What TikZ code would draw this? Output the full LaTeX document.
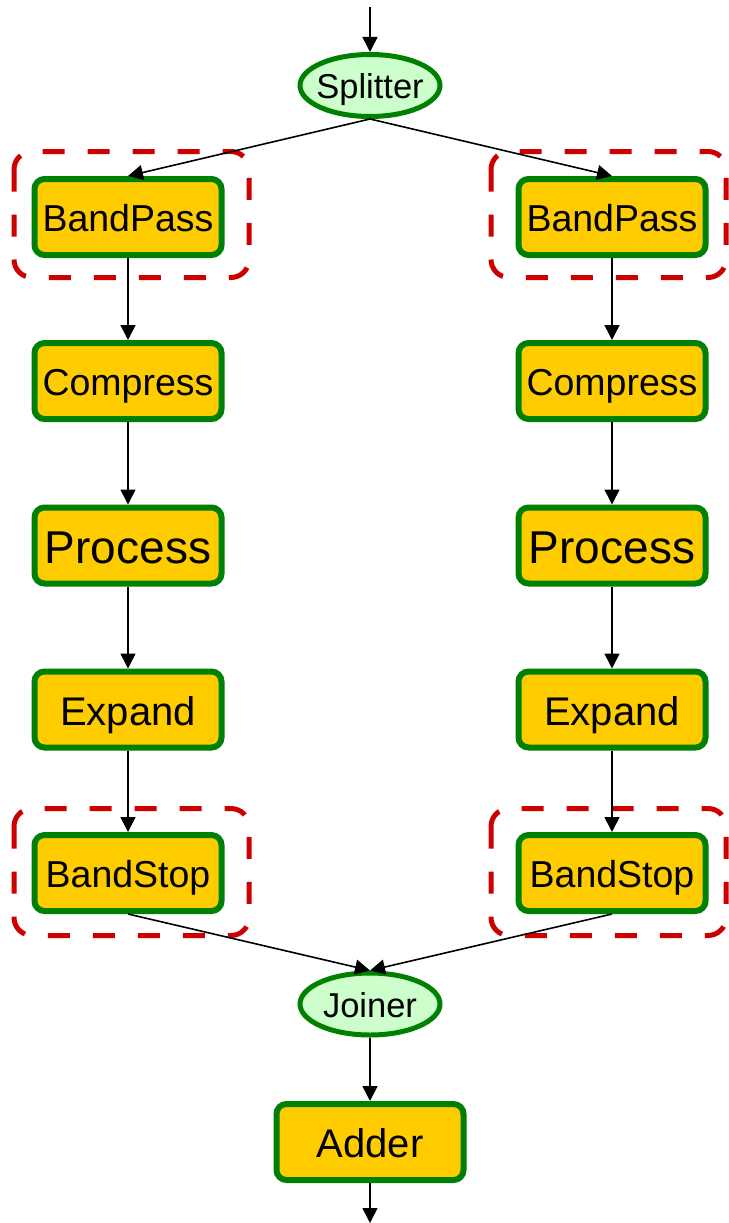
\documentclass[tikz,border=0pt]{standalone}
\usepackage{fontspec}
\setmainfont{Liberation Sans}
\usetikzlibrary{arrows.meta,shapes.geometric}
\definecolor{boxfill}{HTML}{FFCC00}
\definecolor{boxline}{HTML}{008000}
\definecolor{ellfill}{HTML}{CCFFCC}
\definecolor{dashred}{HTML}{CC0000}
\tikzset{
  filterbox/.style={draw=boxline, fill=boxfill, line width=6pt, rounded corners=10pt,
    minimum width=187pt, minimum height=76pt, inner sep=0pt, text=black, text depth=0pt},
  joinell/.style={draw=boxline, fill=ellfill, line width=5pt, ellipse,
    minimum width=140pt, minimum height=62pt, inner xsep=-5pt, inner ysep=0pt, text=black,
    text depth=0pt},
  conn/.style={draw=black, line width=1.6pt, -{Triangle[length=15pt,width=15pt]}},
  dashbox/.style={draw=dashred, line width=5pt, rounded corners=18pt, dash pattern=on 22pt off 23pt},
  fA/.style={font=\fontsize{37.5}{40}\selectfont, text height=29.6pt},
  fB/.style={font=\fontsize{46}{50}\selectfont, text height=36.3pt},
  fC/.style={font=\fontsize{40}{44}\selectfont, text height=31.6pt},
  fD/.style={font=\fontsize{34.5}{38}\selectfont, text height=26.2pt},
}
\begin{document}
\begin{tikzpicture}[x=1pt,y=-1pt]
\useasboundingbox (0,0) rectangle (728,1223);
\coordinate (in) at (370,7);
\coordinate (out) at (370,1223);
\node[joinell, fD] (split) at (370,85.5) {Splitter};
\foreach \s/\x in {L/128,R/612}{
  \node[filterbox, fA] (bp\s) at (\x,217) {BandPass};
  \node[filterbox, fA] (cm\s) at (\x,381) {Compress};
  \node[filterbox, fB] (pr\s) at (\x,545.5) {Process};
  \node[filterbox, fC] (ex\s) at (\x,709.5) {Expand};
  \node[filterbox, fA] (bs\s) at (\x,873) {BandStop};
}
\node[joinell, fD] (join) at (370,1004) {Joiner};
\node[filterbox, fC] (add) at (370,1142) {Adder};
% dashed groups
\draw[dashbox] ([xshift=-17.5pt,yshift=24.5pt]bpL.north west) rectangle ([xshift=24.5pt,yshift=-19.5pt]bpL.south east);
\draw[dashbox] ([xshift=-24.5pt,yshift=24.5pt]bpR.north west) rectangle ([xshift=17.5pt,yshift=-19.5pt]bpR.south east);
\draw[dashbox] ([xshift=-17.5pt,yshift=23.5pt]bsL.north west) rectangle ([xshift=24.5pt,yshift=-21.5pt]bsL.south east);
\draw[dashbox] ([xshift=-24.5pt,yshift=23.5pt]bsR.north west) rectangle ([xshift=17.5pt,yshift=-21.5pt]bsR.south east);
% connectors
\draw[conn] (in) -- (split.north);
\draw[conn] (split.south) -- (bpL.north);
\draw[conn] (split.south) -- (bpR.north);
\foreach \s in {L,R}{
  \draw[conn] (bp\s) -- (cm\s);
  \draw[conn] (cm\s) -- (pr\s);
  \draw[conn] (pr\s) -- (ex\s);
  \draw[conn] (ex\s) -- (bs\s);
  \draw[conn] (bs\s.south) -- (join.north);
}
\draw[conn] (join) -- (add);
\draw[conn] (add) -- (out);
\end{tikzpicture}
\end{document}
